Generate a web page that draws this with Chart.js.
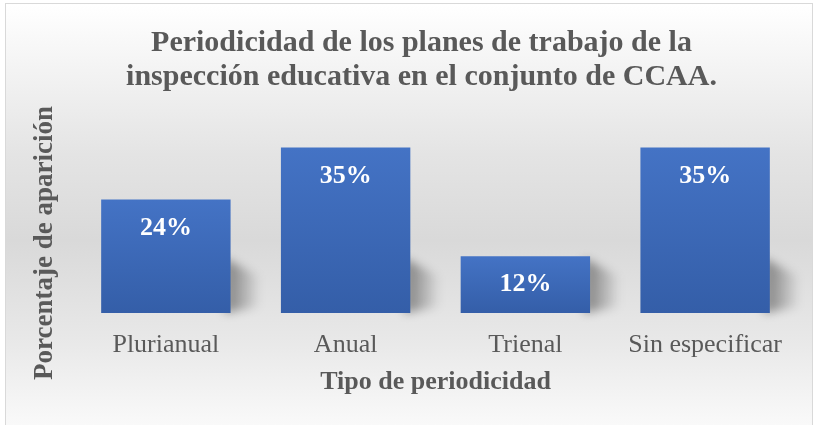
<!DOCTYPE html>
<html>
<head>
<meta charset="utf-8">
<script src="https://cdn.jsdelivr.net/npm/chart.js@4/dist/chart.umd.min.js"></script>
<style>
body{margin:0;background:#fff;}
#marco{position:absolute;left:5px;top:3px;width:806px;height:430px;border:1px solid #d9d9d9;
background:linear-gradient(to bottom,#ffffff 0%,#e4e4e4 35%,#d9d9d9 55%,#e8e8e8 78%,#fbfbfb 100%);}
#caja{position:absolute;left:0;top:0;width:813px;height:425px;}
</style>
</head>
<body>
<div id="marco"></div>
<div id="caja"><canvas id="grafico"></canvas></div>
<script>

// datos
const tipos = ["Plurianual","Anual","Trienal","Sin especificar"];
const porcentajes = [24,35,12,35];

const titulo = ["Periodicidad de los planes de trabajo de la","inspección educativa en el conjunto de CCAA."];
const tituloEjeX = "Tipo de periodicidad";
const tituloEjeY = "Porcentaje de aparición";

const gris = "#595959";
const letra = "'Liberation Serif','Times New Roman',serif";


// degradado de cada barra
function colorBarra(ctx){
  const chart = ctx.chart;
  if(!chart.chartArea || ctx.parsed === undefined) return "#3d69b7";
  const y = chart.scales.y;
  const arriba = y.getPixelForValue(ctx.parsed.y);
  const abajo = y.getPixelForValue(0);
  const g = chart.ctx.createLinearGradient(0,arriba,0,abajo);
  g.addColorStop(0,"#4473c5");
  g.addColorStop(1,"#345ea8");
  return g;
}


// sombras y etiquetas
const extras = {
  id:"extras",
  beforeDatasetsDraw(chart){
    const c = chart.ctx;
    const barras = chart.getDatasetMeta(0).data;
    c.save();
    c.filter = "blur(5px)";
    barras.forEach(b=>{
      const der = b.x + b.width/2;
      const base = b.base;
      const alto = Math.min(55, base - b.y);
      const g = c.createLinearGradient(der,0,der+30,0);
      g.addColorStop(0,"rgba(0,0,0,0.38)");
      g.addColorStop(1,"rgba(0,0,0,0)");
      c.fillStyle = g;
      c.beginPath();
      c.moveTo(der-6,base);
      c.lineTo(der-6,base-alto);
      c.lineTo(der+28,base-alto+18);
      c.lineTo(der+28,base-6);
      c.closePath();
      c.fill();
    });
    c.restore();
  },
  afterDatasetsDraw(chart){
    const c = chart.ctx;
    const barras = chart.getDatasetMeta(0).data;
    c.save();
    c.fillStyle = "#ffffff";
    c.font = "bold 26px " + letra;
    c.textAlign = "center";
    c.textBaseline = "middle";
    barras.forEach((b,i)=>{
      const y = Math.min(b.y + 29, (b.y + b.base)/2);
      c.fillText(porcentajes[i] + "%", b.x, y);
    });
    // titulo del eje vertical
    c.fillStyle = gris;
    c.font = "bold 27px " + letra;
    c.translate(45,243);
    c.rotate(-Math.PI/2);
    c.fillText(tituloEjeY,0,0);
    c.restore();
  }
};


new Chart(
document.getElementById("grafico"),
{
type:"bar",
data:{
  labels:tipos,
  datasets:[{
    label:"Porcentaje",
    data:porcentajes,
    backgroundColor:colorBarra,
    borderWidth:0,
    barPercentage:0.72,
    categoryPercentage:1
  }]
},
options:{
  responsive:true,
  maintainAspectRatio:false,
  animation:false,
  layout:{padding:{left:48,right:18,top:0,bottom:0}},
  plugins:{
    legend:{display:false},
    tooltip:{enabled:false},
    title:{
      display:true,
      text:titulo,
      color:gris,
      font:{family:letra,size:30,weight:"bold",lineHeight:1.13},
      padding:{top:26,bottom:30}
    }
  },
  scales:{
    x:{
      grid:{display:false,drawTicks:false},
      border:{display:false},
      ticks:{color:gris,font:{family:letra,size:26},padding:17,maxRotation:0},
      title:{display:true,text:tituloEjeX,color:gris,
        font:{family:letra,size:26,weight:"bold"},padding:{top:0,bottom:27}},
      afterFit(s){ s.height = 112; }
    },
    y:{
      min:0,
      max:40,
      grid:{display:false,drawTicks:false},
      border:{display:false},
      ticks:{display:false},
      afterFit(s){ s.width = 28; }
    }
  }
},
plugins:[extras]
}
);

</script>
</body>
</html>
